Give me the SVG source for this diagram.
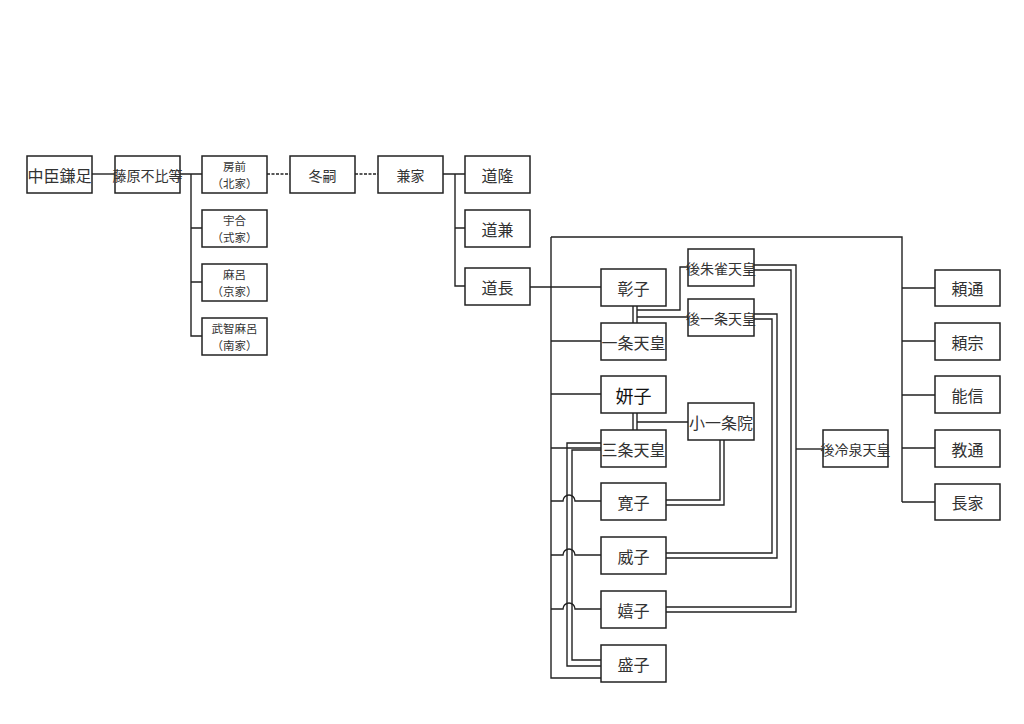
<svg xmlns="http://www.w3.org/2000/svg" width="1024" height="724" viewBox="0 0 1024 724">
<style>
rect{fill:#fff;stroke:#222;stroke-width:1.5}
text{font-family:"Noto Sans CJK JP",sans-serif;font-size:14px;fill:#333;text-anchor:middle;dominant-baseline:central}
.s{font-size:11.5px}
.l{font-size:16px}
#c path,#c line{fill:none;stroke:#222;stroke-width:1.4}
.d{stroke-dasharray:3,1.5}
</style>
<rect x="0" y="0" width="1024" height="724" style="fill:#fff;stroke:none"/>
<g id="c">
<line x1="92" y1="174" x2="115" y2="174"/>
<path d="M180 174H202M191 174V336H202M191 228H202M191 282H202"/>
<line class="d" x1="267" y1="174" x2="290" y2="174"/>
<line class="d" x1="355" y1="174" x2="378" y2="174"/>
<path d="M443 174H465M455 174V286H465M455 228H465"/>
<path d="M530 287H551M551 237H902V502M551 237V678H601M551 287H601M551 341H601M551 394H601M551 448H601"/>
<path d="M551 501H563A6 6 0 0 1 575 501H601M551 555H563A6 6 0 0 1 575 555H601M551 609H563A6 6 0 0 1 575 609H601"/>
<path d="M902 288H935M902 341H935M902 395H935M902 448H935M902 502H935"/>
<path d="M633 306V323M637 306V323M637 310H680V267H688M637 317H688"/>
<path d="M633 413V430M637 413V430M637 422H688"/>
<path d="M720 440V500H666M724 440V505H666"/>
<path d="M754 314H777V558H666M754 319H772V553H666"/>
<path d="M754 265H796V612H666M754 270H791V607H666"/>
<path d="M796 449H823"/>
<path d="M601 443H567V666H601M601 450H572V660H601"/>
</g>
<g id="n1"><rect x="27" y="156" width="65" height="37"/><text x="59.5" y="175" class="l">中臣鎌足</text></g>
<g id="n2"><rect x="115" y="156" width="65" height="37"/><text x="147.5" y="175">藤原不比等</text></g>
<g id="n3"><rect x="202" y="156" width="65" height="37"/><text x="234.5" y="166" class="s">房前</text><text x="234.5" y="183" class="s">（北家）</text></g>
<g id="n4"><rect x="202" y="210" width="65" height="37"/><text x="234.5" y="220" class="s">宇合</text><text x="234.5" y="237" class="s">（式家）</text></g>
<g id="n5"><rect x="202" y="264" width="65" height="37"/><text x="234.5" y="274" class="s">麻呂</text><text x="234.5" y="291" class="s">（京家）</text></g>
<g id="n6"><rect x="202" y="318" width="65" height="37"/><text x="234.5" y="328" class="s">武智麻呂</text><text x="234.5" y="345" class="s">（南家）</text></g>
<g id="n7"><rect x="290" y="156" width="65" height="37"/><text x="322.5" y="175">冬嗣</text></g>
<g id="n8"><rect x="378" y="156" width="65" height="37"/><text x="410.5" y="175">兼家</text></g>
<g id="n9"><rect x="465" y="156" width="65" height="37"/><text x="497.5" y="175" class="l">道隆</text></g>
<g id="n10"><rect x="465" y="210" width="65" height="37"/><text x="497.5" y="229" class="l">道兼</text></g>
<g id="n11"><rect x="465" y="268" width="65" height="37"/><text x="497.5" y="287" class="l">道長</text></g>
<g id="n12"><rect x="601" y="269" width="65" height="37"/><text x="633.5" y="288" class="l">彰子</text></g>
<g id="n13"><rect x="601" y="323" width="65" height="37"/><text x="633.5" y="342" class="l">一条天皇</text></g>
<g id="n14"><rect x="601" y="376" width="65" height="37"/><text x="633.5" y="395" style="font-size:18px;fill:#111">妍子</text></g>
<g id="n15"><rect x="601" y="430" width="65" height="37"/><text x="633.5" y="449" class="l">三条天皇</text></g>
<g id="n16"><rect x="601" y="483" width="65" height="37"/><text x="633.5" y="502" class="l">寛子</text></g>
<g id="n17"><rect x="601" y="537" width="65" height="37"/><text x="633.5" y="556" class="l">威子</text></g>
<g id="n18"><rect x="601" y="591" width="65" height="37"/><text x="633.5" y="610" class="l">嬉子</text></g>
<g id="n19"><rect x="601" y="645" width="65" height="37"/><text x="633.5" y="664" class="l">盛子</text></g>
<g id="n20"><rect x="688" y="249" width="66" height="37"/><text x="721" y="268">後朱雀天皇</text></g>
<g id="n21"><rect x="688" y="299" width="66" height="37"/><text x="721" y="318">後一条天皇</text></g>
<g id="n22"><rect x="688" y="403" width="66" height="37"/><text x="721" y="422" class="l">小一条院</text></g>
<g id="n23"><rect x="823" y="430" width="65" height="37"/><text x="855.5" y="449">後冷泉天皇</text></g>
<g id="n24"><rect x="935" y="270" width="65" height="36"/><text x="967.5" y="288" class="l">頼通</text></g>
<g id="n25"><rect x="935" y="323" width="65" height="37"/><text x="967.5" y="342" class="l">頼宗</text></g>
<g id="n26"><rect x="935" y="376" width="65" height="37"/><text x="967.5" y="395" class="l">能信</text></g>
<g id="n27"><rect x="935" y="430" width="65" height="37"/><text x="967.5" y="449" class="l">教通</text></g>
<g id="n28"><rect x="935" y="484" width="65" height="36"/><text x="967.5" y="502" class="l">長家</text></g>
</svg>
